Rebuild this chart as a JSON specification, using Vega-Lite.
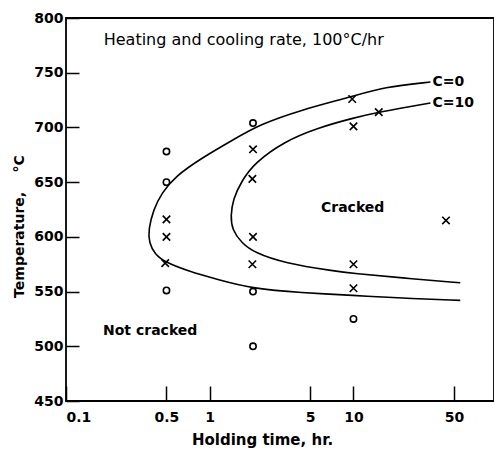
{
  "$schema": "https://vega.github.io/schema/vega-lite/v6.json",
  "width": 428,
  "height": 383,
  "autosize": "none",
  "padding": {"left": 66, "top": 18, "right": 0, "bottom": 57},
  "background": "white",
  "config": {
    "view": {"stroke": "black", "strokeWidth": 1.8},
    "font": "DejaVu Sans",
    "axis": {
      "grid": false,
      "domain": false,
      "tickColor": "black",
      "labelColor": "black",
      "titleColor": "black",
      "labelFont": "DejaVu Sans",
      "titleFont": "DejaVu Sans",
      "labelFontSize": 14,
      "labelFontWeight": "bold",
      "titleFontSize": 14,
      "titleFontWeight": "bold"
    }
  },
  "datasets": {
    "curves": [
      {"series": "C=0", "i": 1, "t": 34.3, "temp": 741.5},
      {"series": "C=0", "i": 2, "t": 16.3, "temp": 737},
      {"series": "C=0", "i": 3, "t": 9.7, "temp": 728},
      {"series": "C=0", "i": 4, "t": 4.32, "temp": 716},
      {"series": "C=0", "i": 5, "t": 2.22, "temp": 702.6},
      {"series": "C=0", "i": 6, "t": 1.49, "temp": 689.5},
      {"series": "C=0", "i": 7, "t": 0.876, "temp": 672},
      {"series": "C=0", "i": 8, "t": 0.572, "temp": 655},
      {"series": "C=0", "i": 9, "t": 0.463, "temp": 640},
      {"series": "C=0", "i": 10, "t": 0.406, "temp": 625},
      {"series": "C=0", "i": 11, "t": 0.3745, "temp": 606.7},
      {"series": "C=0", "i": 12, "t": 0.378, "temp": 594.6},
      {"series": "C=0", "i": 13, "t": 0.416, "temp": 584},
      {"series": "C=0", "i": 14, "t": 0.488, "temp": 577},
      {"series": "C=0", "i": 15, "t": 0.708, "temp": 568.7},
      {"series": "C=0", "i": 16, "t": 1.14, "temp": 561},
      {"series": "C=0", "i": 17, "t": 2.0, "temp": 552.6},
      {"series": "C=0", "i": 18, "t": 4.32, "temp": 549},
      {"series": "C=0", "i": 19, "t": 10, "temp": 546.5},
      {"series": "C=0", "i": 20, "t": 21.3, "temp": 544},
      {"series": "C=0", "i": 21, "t": 55.3, "temp": 542},
      {"series": "C=10", "i": 1, "t": 34.3, "temp": 722.4},
      {"series": "C=10", "i": 2, "t": 15, "temp": 714},
      {"series": "C=10", "i": 3, "t": 10, "temp": 708.7},
      {"series": "C=10", "i": 4, "t": 5.63, "temp": 699.6},
      {"series": "C=10", "i": 5, "t": 3.31, "temp": 687.3},
      {"series": "C=10", "i": 6, "t": 2.05, "temp": 667.6},
      {"series": "C=10", "i": 7, "t": 1.66, "temp": 650.8},
      {"series": "C=10", "i": 8, "t": 1.45, "temp": 634},
      {"series": "C=10", "i": 9, "t": 1.398, "temp": 619},
      {"series": "C=10", "i": 10, "t": 1.43, "temp": 606.7},
      {"series": "C=10", "i": 11, "t": 1.66, "temp": 594.6},
      {"series": "C=10", "i": 12, "t": 2.05, "temp": 585.5},
      {"series": "C=10", "i": 13, "t": 3.31, "temp": 576},
      {"series": "C=10", "i": 14, "t": 7.34, "temp": 568.7},
      {"series": "C=10", "i": 15, "t": 10, "temp": 566.6},
      {"series": "C=10", "i": 16, "t": 21.3, "temp": 562.6},
      {"series": "C=10", "i": 17, "t": 55.3, "temp": 558}
    ],
    "points": [
      {"result": "not cracked", "t": 0.5, "temp": 678},
      {"result": "not cracked", "t": 0.5, "temp": 650},
      {"result": "not cracked", "t": 0.5, "temp": 551},
      {"result": "not cracked", "t": 2, "temp": 704},
      {"result": "not cracked", "t": 2, "temp": 550},
      {"result": "not cracked", "t": 2, "temp": 500},
      {"result": "not cracked", "t": 10, "temp": 525},
      {"result": "cracked", "t": 0.5, "temp": 616},
      {"result": "cracked", "t": 0.5, "temp": 600},
      {"result": "cracked", "t": 0.49, "temp": 576},
      {"result": "cracked", "t": 2, "temp": 680},
      {"result": "cracked", "t": 1.98, "temp": 653},
      {"result": "cracked", "t": 2, "temp": 600},
      {"result": "cracked", "t": 1.98, "temp": 575},
      {"result": "cracked", "t": 9.8, "temp": 726},
      {"result": "cracked", "t": 10, "temp": 701},
      {"result": "cracked", "t": 10, "temp": 575},
      {"result": "cracked", "t": 10, "temp": 553},
      {"result": "cracked", "t": 15, "temp": 714},
      {"result": "cracked", "t": 44, "temp": 615}
    ],
    "notes": [
      {"label": "Heating and cooling rate, 100°C/hr", "t": 0.183, "temp": 780, "kind": "plain"},
      {"label": "Cracked", "t": 5.94, "temp": 626, "kind": "bold"},
      {"label": "Not cracked", "t": 0.181, "temp": 514, "kind": "bold"},
      {"label": "C=0", "t": 35.5, "temp": 741.5, "kind": "bold"},
      {"label": "C=10", "t": 35.5, "temp": 722.4, "kind": "bold"}
    ]
  },
  "encoding": {
    "x": {
      "field": "t",
      "type": "quantitative",
      "scale": {"type": "log", "domain": [0.1, 95], "nice": false},
      "axis": {
        "title": "Holding time, hr.",
        "titleFontSize": 15,
        "values": [0.1, 0.5, 1, 5, 10, 50],
        "format": "~g",
        "tickSize": -15,
        "tickWidth": 1.5,
        "labelPadding": 24,
        "titleX": 196,
        "titleY": 38,
        "titleBaseline": "middle"
      }
    },
    "y": {
      "field": "temp",
      "type": "quantitative",
      "scale": {"domain": [450, 800], "nice": false, "zero": false},
      "axis": {
        "title": "Temperature,\u00a0\u00a0\u00a0\u00a0°C",
        "values": [450, 500, 550, 600, 650, 700, 750, 800],
        "tickSize": -13,
        "tickWidth": 1.5,
        "labelPadding": 16,
        "titleX": -47,
        "titleY": 208,
        "titleBaseline": "middle"
      }
    }
  },
  "layer": [
    {
      "data": {"name": "curves"},
      "mark": {"type": "line", "color": "black", "strokeWidth": 1.6, "interpolate": "basis"},
      "encoding": {
        "detail": {"field": "series"},
        "order": {"field": "i", "type": "quantitative"}
      }
    },
    {
      "data": {"name": "points"},
      "mark": {"type": "point", "filled": false, "stroke": "black", "strokeWidth": 1.6, "opacity": 1},
      "encoding": {
        "shape": {
          "field": "result",
          "type": "nominal",
          "scale": {"domain": ["not cracked", "cracked"], "range": ["circle", "M-1,-1L1,1M-1,1L1,-1"]},
          "legend": null
        },
        "size": {
          "field": "result",
          "type": "nominal",
          "scale": {"domain": ["not cracked", "cracked"], "range": [40, 56]},
          "legend": null
        }
      }
    },
    {
      "data": {"name": "notes"},
      "transform": [{"filter": "datum.kind == 'plain'"}],
      "mark": {"type": "text", "align": "left", "baseline": "middle", "font": "DejaVu Sans", "fontSize": 16, "color": "black"},
      "encoding": {"text": {"field": "label"}}
    },
    {
      "data": {"name": "notes"},
      "transform": [{"filter": "datum.kind == 'bold'"}],
      "mark": {"type": "text", "align": "left", "baseline": "middle", "font": "DejaVu Sans", "fontSize": 14, "fontWeight": "bold", "color": "black"},
      "encoding": {"text": {"field": "label"}}
    }
  ]
}
